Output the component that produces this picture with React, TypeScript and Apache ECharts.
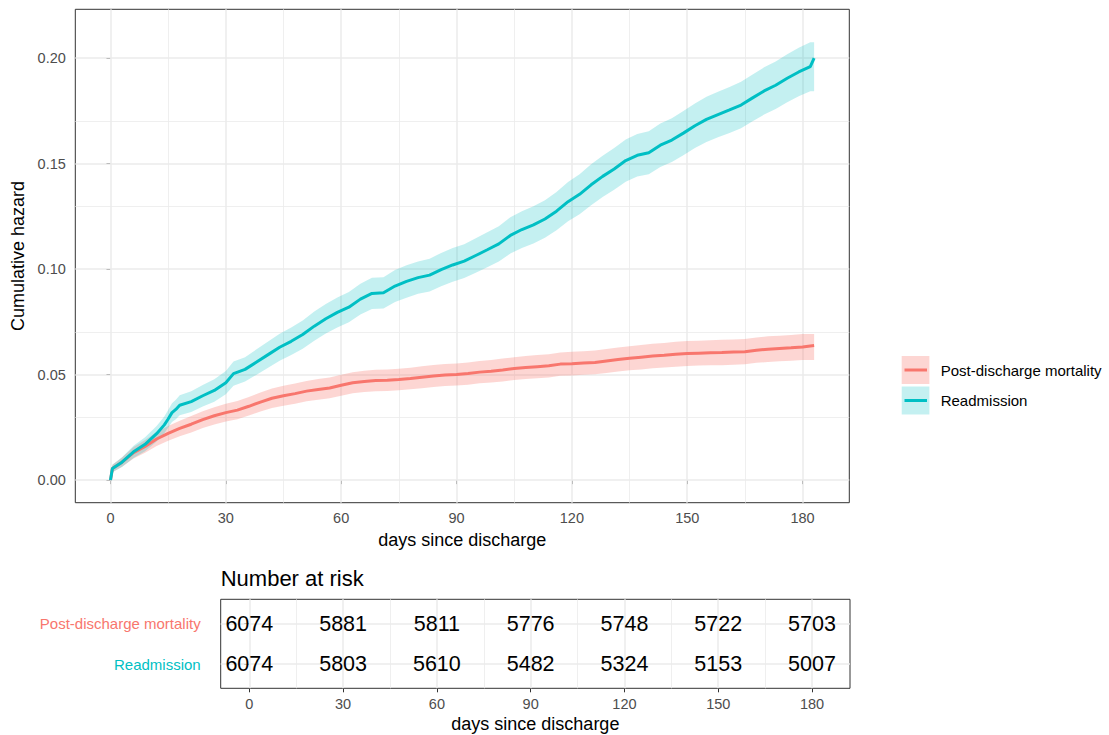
import React, { useEffect, useRef } from "react";
import * as echarts from "echarts";

const FONT = '"Liberation Sans", Arial, Helvetica, sans-serif';

const xTicks = [0, 30, 60, 90, 120, 150, 180];
const xMinor = [15, 45, 75, 105, 135, 165];
const yTicks = [0, 0.05, 0.1, 0.15, 0.2];
const yMinor = [0.025, 0.075, 0.125, 0.175];

const groupNames = ["Post-discharge mortality", "Readmission"];
const groupColors = ["#F8766D", "#00BFC4"];
const groupFills = ["rgba(248,118,109,0.3)", "rgba(0,191,196,0.23)"];

const readmitDays = [0, 0.5, 3, 6, 9, 12, 14, 15, 16, 17, 18, 21, 24, 27, 30, 32, 35, 38, 41, 44, 47, 50, 53, 56, 59, 62, 65, 68, 71, 74, 77, 80, 83, 86, 89, 92, 95, 98, 101, 104, 107, 110, 113, 116, 119, 122, 125, 128, 131, 134, 137, 140, 143, 146, 149, 152, 155, 158, 161, 164, 167, 170, 173, 176, 179, 182, 183];
const readmitHazard = [0, 0.0055, 0.0085, 0.0134, 0.017, 0.022,
  0.0262, 0.029, 0.032, 0.0335, 0.0355,
  0.0372, 0.04, 0.0425, 0.0462,
  0.0505, 0.0525, 0.056, 0.0595, 0.063, 0.0658, 0.069, 0.073, 0.0765, 0.0795,
  0.082, 0.0858, 0.0885, 0.0888, 0.092, 0.0942, 0.096, 0.0972, 0.0998, 0.102,
  0.1038, 0.1065, 0.1092, 0.112, 0.116, 0.1188, 0.121, 0.1238, 0.1275, 0.132,
  0.1355, 0.14, 0.144, 0.1475, 0.1515, 0.154, 0.1552, 0.1588, 0.1612, 0.1645,
  0.168, 0.171, 0.1733, 0.1755, 0.1778, 0.1812, 0.1845, 0.1872, 0.1905, 0.1935,
  0.196, 0.2001];
const readmitCiHalf = [0, 0.0018, 0.0023, 0.0029, 0.0033, 0.0037,
  0.004, 0.0042, 0.0045, 0.0046, 0.0047,
  0.0049, 0.0051, 0.0053, 0.0055,
  0.0057, 0.0058, 0.006, 0.0062, 0.0064, 0.0065, 0.0067, 0.0069, 0.007, 0.0071,
  0.0072, 0.0073, 0.0074, 0.0074, 0.0076, 0.0077, 0.0077, 0.0078, 0.0079, 0.008,
  0.008, 0.0082, 0.0083, 0.0084, 0.0086, 0.0087, 0.0088, 0.0089, 0.0091, 0.0093,
  0.0095, 0.0097, 0.0098, 0.0099, 0.01, 0.0101, 0.0102, 0.0103, 0.0104, 0.0105,
  0.0106, 0.0107, 0.0108, 0.0109, 0.011, 0.0111, 0.0112, 0.0113, 0.0114, 0.0115,
  0.0116, 0.0118];

const mortalityDays = [0, 0.5, 3, 6, 9, 12, 15, 18, 21, 24, 27, 30, 33, 36, 39, 42, 45, 48, 51, 54, 57, 60, 63, 66, 69, 72, 75, 78, 81, 84, 87, 90, 93, 96, 99, 102, 105, 108, 111, 114, 117, 120, 123, 126, 129, 132, 135, 138, 141, 144, 147, 150, 153, 156, 159, 162, 165, 168, 171, 174, 177, 180, 183];
const mortalityHazard = [0, 0.0055,
  0.0085, 0.013, 0.016, 0.0195, 0.0222, 0.0245, 0.0265, 0.0287, 0.0305, 0.032,
  0.0332, 0.035, 0.037, 0.0388, 0.04, 0.041, 0.0422, 0.043, 0.0437, 0.045,
  0.0462, 0.0468, 0.0472, 0.0474, 0.0477, 0.0482, 0.0488, 0.0494, 0.0498, 0.0501,
  0.0505, 0.0512, 0.0516, 0.0522, 0.0529, 0.0534, 0.0538, 0.0542, 0.055, 0.0552,
  0.0555, 0.0558, 0.0565, 0.0572, 0.0578, 0.0583, 0.0588, 0.0592, 0.0597, 0.06,
  0.0602, 0.0604, 0.0605, 0.0607, 0.0609, 0.0616, 0.0621, 0.0624, 0.0627, 0.0631,
  0.0638];
const mortalityCiHalf = [0, 0.0018, 0.0022, 0.0027, 0.003, 0.0033, 0.0035, 0.0037, 0.0039, 0.004, 0.0041, 0.0042,
  0.0043, 0.0044, 0.0045, 0.0046, 0.0047, 0.0048, 0.0048, 0.0049, 0.0049, 0.005,
  0.005, 0.005, 0.0051, 0.0051, 0.0051, 0.0051, 0.0052, 0.0052, 0.0052, 0.0052,
  0.0053, 0.0053, 0.0053, 0.0054, 0.0054, 0.0054, 0.0055, 0.0055, 0.0055, 0.0056,
  0.0056, 0.0056, 0.0057, 0.0057, 0.0057, 0.0058, 0.0058, 0.0058, 0.0059, 0.0059,
  0.0059, 0.0059, 0.006, 0.006, 0.006, 0.006, 0.0061, 0.0061, 0.0061, 0.0062,
  0.0062];

const riskTimes = [0, 30, 60, 90, 120, 150, 180];
const mortalityAtRisk = [6074, 5881, 5811, 5776, 5748, 5722, 5703];
const readmitAtRisk = [6074, 5803, 5610, 5482, 5324, 5153, 5007];

const GRID_COLOR = "#EBEBEB";

function bandSeries(days: number[], haz: number[], half: number[], fill: string) {
  return {
    type: "custom",
    xAxisIndex: 0,
    yAxisIndex: 0,
    z: 2,
    silent: true,
    data: [[days[0], haz[0]]],
    renderItem: (params: any, api: any) => {
      if (params.dataIndex !== 0) return null;
      const n = days.length;
      const pts: number[][] = [];
      // the final event is an instantaneous jump: the band keeps its previous level up to the last day
      for (let i = 0; i < n - 1; i++) pts.push(api.coord([days[i], haz[i] + half[i]]));
      pts.push(api.coord([days[n - 1], haz[n - 2] + half[n - 2]]));
      pts.push(api.coord([days[n - 1], haz[n - 2] - half[n - 2]]));
      for (let i = n - 2; i >= 0; i--) pts.push(api.coord([days[i], haz[i] - half[i]]));
      return { type: "polygon", shape: { points: pts }, style: { fill } };
    },
  };
}

function lineSeries(name: string, days: number[], haz: number[], color: string) {
  return {
    name,
    type: "line",
    xAxisIndex: 0,
    yAxisIndex: 0,
    symbol: "none",
    showSymbol: false,
    z: 3,
    silent: true,
    lineStyle: { color, width: 3 },
    data: days.map((d, i) => [d, haz[i]]),
  };
}

function gridLines(xi: number, major: number[], minor: number[], yMajor: number[], yMin: number[]) {
  const line = (v: number, axis: "xAxis" | "yAxis", w: number) => ({
    [axis]: v,
    lineStyle: { color: GRID_COLOR, width: w, type: "solid" },
  });
  return {
    type: "line",
    xAxisIndex: xi,
    yAxisIndex: xi,
    z: 1,
    silent: true,
    symbol: "none",
    lineStyle: { width: 0, opacity: 0 },
    data: [],
    markLine: {
      silent: true,
      z: 1,
      symbol: ["none", "none"],
      label: { show: false },
      emphasis: { disabled: true },
      animation: false,
      data: [
        ...minor.map((v) => line(v, "xAxis", 0.8)),
        ...yMin.map((v) => line(v, "yAxis", 0.8)),
        ...major.map((v) => line(v, "xAxis", 1.5)),
        ...yMajor.map((v) => line(v, "yAxis", 1.5)),
      ],
    },
  };
}

const tickStyle = { color: "#333333", width: 1 };
const labelStyle = { color: "#4D4D4D", fontSize: 14.5, fontFamily: FONT };

export default function App() {
  const ref = useRef<HTMLDivElement>(null);

  useEffect(() => {
    document.body.style.margin = "0";
    if (!ref.current) return;
    const chart = echarts.init(ref.current, undefined, { renderer: "svg" });

    const riskData = [
      ...riskTimes.map((t, i) => [t, 2, mortalityAtRisk[i]]),
      ...riskTimes.map((t, i) => [t, 1, readmitAtRisk[i]]),
    ];

    const option: any = {
      animation: false,
      backgroundColor: "#FFFFFF",
      textStyle: { fontFamily: FONT },
      grid: [
        { left: 75.3, top: 9.3, width: 774, height: 493.4, show: true, borderColor: "#333333", borderWidth: 1, backgroundColor: "#FFFFFF", containLabel: false },
        { left: 220.7, top: 599.3, width: 629.3, height: 89, show: true, borderColor: "#333333", borderWidth: 1, backgroundColor: "#FFFFFF", containLabel: false },
      ],
      xAxis: [
        {
          type: "value", gridIndex: 0, min: -9.15, max: 192.15,
          splitLine: { show: false }, axisLine: { show: false },
          axisTick: { show: true, customValues: xTicks, length: 4, lineStyle: tickStyle },
          axisLabel: { ...labelStyle, customValues: xTicks, margin: 8 },
          name: "days since discharge", nameLocation: "middle", nameGap: 26,
          nameTextStyle: { color: "#000000", fontSize: 18, fontFamily: FONT },
        },
        {
          type: "value", gridIndex: 1, min: -9.15, max: 192.15,
          splitLine: { show: false }, axisLine: { show: false },
          axisTick: { show: true, customValues: xTicks, length: 4, lineStyle: tickStyle },
          axisLabel: { ...labelStyle, customValues: xTicks, margin: 8 },
          name: "days since discharge", nameLocation: "middle", nameGap: 27,
          nameTextStyle: { color: "#000000", fontSize: 18, fontFamily: FONT },
        },
      ],
      yAxis: [
        {
          type: "value", gridIndex: 0, min: -0.0107, max: 0.2232,
          splitLine: { show: false }, axisLine: { show: false },
          axisTick: { show: true, customValues: yTicks, length: 4, lineStyle: tickStyle },
          axisLabel: { ...labelStyle, customValues: yTicks, margin: 9.5, formatter: (v: number) => Number(v).toFixed(2) },
          name: "Cumulative hazard", nameLocation: "middle", nameGap: 42,
          nameTextStyle: { color: "#000000", fontSize: 18, fontFamily: FONT },
        },
        {
          type: "value", gridIndex: 1, min: 0.4, max: 2.6,
          splitLine: { show: false }, axisLine: { show: false },
          axisTick: { show: true, customValues: [1, 2], length: 5, lineStyle: tickStyle },
          axisLabel: {
            customValues: [1, 2], margin: 20, fontSize: 15, fontFamily: FONT,
            formatter: (v: number) => (Number(v) === 2 ? groupNames[0] : groupNames[1]),
            color: (v: any) => (Number(v) === 2 ? groupColors[0] : groupColors[1]),
          },
        },
      ],
      series: [
        gridLines(0, xTicks, xMinor, yTicks, yMinor),
        bandSeries(mortalityDays, mortalityHazard, mortalityCiHalf, groupFills[0]),
        bandSeries(readmitDays, readmitHazard, readmitCiHalf, groupFills[1]),
        lineSeries(groupNames[0], mortalityDays, mortalityHazard, groupColors[0]),
        lineSeries(groupNames[1], readmitDays, readmitHazard, groupColors[1]),
        gridLines(1, xTicks, xMinor, [1, 2], []),
        {
          type: "scatter",
          xAxisIndex: 1,
          yAxisIndex: 1,
          z: 10,
          silent: true,
          symbolSize: 1,
          itemStyle: { color: "rgba(255,255,255,0)" },
          label: {
            show: true, position: "inside", color: "#000000", fontSize: 21.5, fontFamily: FONT,
            textBorderWidth: 0, textBorderColor: "rgba(0,0,0,0)", opacity: 1,
            formatter: (p: any) => String(p.value[2]),
          },
          labelLayout: { hideOverlap: false },
          data: riskData,
        },
      ],
      graphic: [
        { type: "text", x: 220.7, y: 578, style: { text: "Number at risk", fill: "#000000", font: `22px ${FONT}`, verticalAlign: "middle", align: "left" } },
        { type: "rect", shape: { x: 901.7, y: 356, width: 27.7, height: 28 }, style: { fill: groupFills[0] } },
        { type: "line", shape: { x1: 904.5, y1: 370, x2: 927, y2: 370 }, style: { stroke: groupColors[0], lineWidth: 3 } },
        { type: "rect", shape: { x: 901.7, y: 386.5, width: 27.7, height: 28 }, style: { fill: groupFills[1] } },
        { type: "line", shape: { x1: 904.5, y1: 400.5, x2: 927, y2: 400.5 }, style: { stroke: groupColors[1], lineWidth: 3 } },
        { type: "text", x: 940.7, y: 370, style: { text: groupNames[0], fill: "#000000", font: `15px ${FONT}`, verticalAlign: "middle", align: "left" } },
        { type: "text", x: 940.7, y: 400.5, style: { text: groupNames[1], fill: "#000000", font: `15px ${FONT}`, verticalAlign: "middle", align: "left" } },
      ],
    };

    chart.setOption(option);
    return () => chart.dispose();
  }, []);

  return <div ref={ref} style={{ width: 1109, height: 735 }} />;
}
